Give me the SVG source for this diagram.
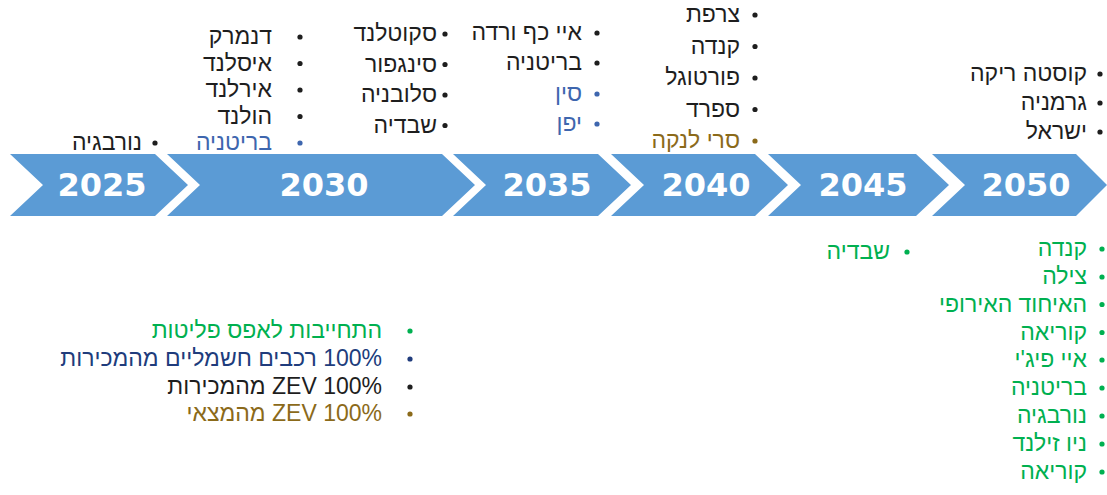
<svg xmlns="http://www.w3.org/2000/svg" width="1107" height="495" viewBox="0 0 1107 495">
  <style>
    .band { fill: #5B9BD5; }
    .year { font-family: "DejaVu Sans", "Liberation Sans", sans-serif; font-weight: bold; font-size: 32px; fill: #ffffff; text-anchor: middle; }
    .he { font-family: "Liberation Sans", "Open Sans", "DejaVu Sans", sans-serif; font-size: 23px; direction: rtl; text-anchor: start; }
    .k { fill: #1e1e1e; }
    .b { fill: #3E66AE; }
    .n { fill: #203C7C; }
    .g { fill: #8B6A1A; }
    .gr { fill: #00B050; }
  </style>

  <!-- timeline chevrons -->
  <g id="timeline">
    <g id="y2025">
      <polygon class="band" points="10,154 155,154 188,185 155,216 10,216 43,185"/>
      <text class="year" x="102" y="196">2025</text>
    </g>
    <g id="y2030">
      <polygon class="band" points="167,154 442,154 475,185 442,216 167,216 200,185"/>
      <text class="year" x="324" y="196">2030</text>
    </g>
    <g id="y2035">
      <polygon class="band" points="453,154 598,154 631,185 598,216 453,216 486,185"/>
      <text class="year" x="547" y="196">2035</text>
    </g>
    <g id="y2040">
      <polygon class="band" points="611,154 755,154 788,185 755,216 611,216 644,185"/>
      <text class="year" x="706" y="196">2040</text>
    </g>
    <g id="y2045">
      <polygon class="band" points="768,154 916,154 949,185 916,216 768,216 801,185"/>
      <text class="year" x="863" y="196">2045</text>
    </g>
    <g id="y2050">
      <polygon class="band" points="932,154 1076,154 1107,185 1076,216 932,216 965,185"/>
      <text class="year" x="1026" y="196">2050</text>
    </g>
  </g>

  <!-- 2025, above -->
  <g id="list-2025-top">
    <circle class="k" cx="155" cy="143" r="2.6"/>
    <text class="he k" x="142" y="150">נורבגיה</text>
  </g>

  <!-- 2030, above -->
  <g id="list-2030-top">
    <circle class="k" cx="300" cy="37" r="2.6"/>
    <circle class="k" cx="300" cy="63.5" r="2.6"/>
    <circle class="k" cx="300" cy="90" r="2.6"/>
    <circle class="k" cx="300" cy="116.5" r="2.6"/>
    <circle class="b" cx="300" cy="143" r="2.6"/>
    <text class="he k" x="272" y="44">דנמרק</text>
    <text class="he k" x="272" y="70.5">איסלנד</text>
    <text class="he k" x="272" y="97">אירלנד</text>
    <text class="he k" x="272" y="123.5">הולנד</text>
    <text class="he b" x="272" y="150">בריטניה</text>
  </g>

  <!-- 2035, above: first column -->
  <g id="list-2035-top-a">
    <circle class="k" cx="445" cy="34" r="2.6"/>
    <circle class="k" cx="445" cy="64.5" r="2.6"/>
    <circle class="k" cx="445" cy="95" r="2.6"/>
    <circle class="k" cx="445" cy="125.5" r="2.6"/>
    <text class="he k" x="437" y="41">סקוטלנד</text>
    <text class="he k" x="437" y="71.5">סינגפור</text>
    <text class="he k" x="437" y="102">סלובניה</text>
    <text class="he k" x="437" y="132.5">שבדיה</text>
  </g>

  <!-- 2035, above: second column -->
  <g id="list-2035-top-b">
    <circle class="k" cx="597" cy="33" r="2.6"/>
    <circle class="k" cx="597" cy="63" r="2.6"/>
    <circle class="b" cx="597" cy="94" r="2.6"/>
    <circle class="b" cx="597" cy="124" r="2.6"/>
    <text class="he k" x="582" y="40">איי כף ורדה</text>
    <text class="he k" x="582" y="70">בריטניה</text>
    <text class="he b" x="582" y="101">סין</text>
    <text class="he b" x="582" y="131">יפן</text>
  </g>

  <!-- 2040, above -->
  <g id="list-2040-top">
    <circle class="k" cx="755" cy="15" r="2.6"/>
    <circle class="k" cx="755" cy="46.5" r="2.6"/>
    <circle class="k" cx="755" cy="78" r="2.6"/>
    <circle class="k" cx="755" cy="109.5" r="2.6"/>
    <circle class="g" cx="755" cy="141" r="2.6"/>
    <text class="he k" x="740" y="22">צרפת</text>
    <text class="he k" x="740" y="53.5">קנדה</text>
    <text class="he k" x="740" y="85">פורטוגל</text>
    <text class="he k" x="740" y="116.5">ספרד</text>
    <text class="he g" x="740" y="148">סרי לנקה</text>
  </g>

  <!-- 2050, above -->
  <g id="list-2050-top">
    <circle class="k" cx="1100" cy="74" r="2.6"/>
    <circle class="k" cx="1100" cy="103" r="2.6"/>
    <circle class="k" cx="1100" cy="132" r="2.6"/>
    <text class="he k" x="1087" y="81">קוסטה ריקה</text>
    <text class="he k" x="1087" y="110">גרמניה</text>
    <text class="he k" x="1087" y="139">ישראל</text>
  </g>

  <!-- 2045, below -->
  <g id="list-2045-bottom">
    <circle class="gr" cx="907" cy="252" r="2.6"/>
    <text class="he gr" x="890" y="259">שבדיה</text>
  </g>

  <!-- 2050, below -->
  <g id="list-2050-bottom">
    <circle class="gr" cx="1102" cy="249" r="2.6"/>
    <circle class="gr" cx="1102" cy="277" r="2.6"/>
    <circle class="gr" cx="1102" cy="304.5" r="2.6"/>
    <circle class="gr" cx="1102" cy="332.5" r="2.6"/>
    <circle class="gr" cx="1102" cy="360" r="2.6"/>
    <circle class="gr" cx="1102" cy="388" r="2.6"/>
    <circle class="gr" cx="1102" cy="416" r="2.6"/>
    <circle class="gr" cx="1102" cy="444" r="2.6"/>
    <circle class="gr" cx="1102" cy="472" r="2.6"/>
    <text class="he gr" x="1087" y="256">קנדה</text>
    <text class="he gr" x="1087" y="284">צילה</text>
    <text class="he gr" x="1087" y="311.5">האיחוד האירופי</text>
    <text class="he gr" x="1087" y="339.5">קוריאה</text>
    <text class="he gr" x="1087" y="367">איי פיג'י</text>
    <text class="he gr" x="1087" y="395">בריטניה</text>
    <text class="he gr" x="1087" y="423">נורבגיה</text>
    <text class="he gr" x="1087" y="451">ניו זילנד</text>
    <text class="he gr" x="1087" y="479">קוריאה</text>
  </g>

  <!-- legend -->
  <g id="legend">
    <circle class="gr" cx="410" cy="331" r="2.6"/>
    <circle class="n" cx="410" cy="359" r="2.6"/>
    <circle class="k" cx="410" cy="387" r="2.6"/>
    <circle class="g" cx="410" cy="414" r="2.6"/>
    <text class="he gr" x="382" y="338">התחייבות לאפס פליטות</text>
    <text class="he n" x="382" y="366">100% רכבים חשמליים מהמכירות</text>
    <text class="he k" x="382" y="394">100% ZEV מהמכירות</text>
    <text class="he g" x="382" y="421">100% ZEV מהמצאי</text>
  </g>
</svg>
